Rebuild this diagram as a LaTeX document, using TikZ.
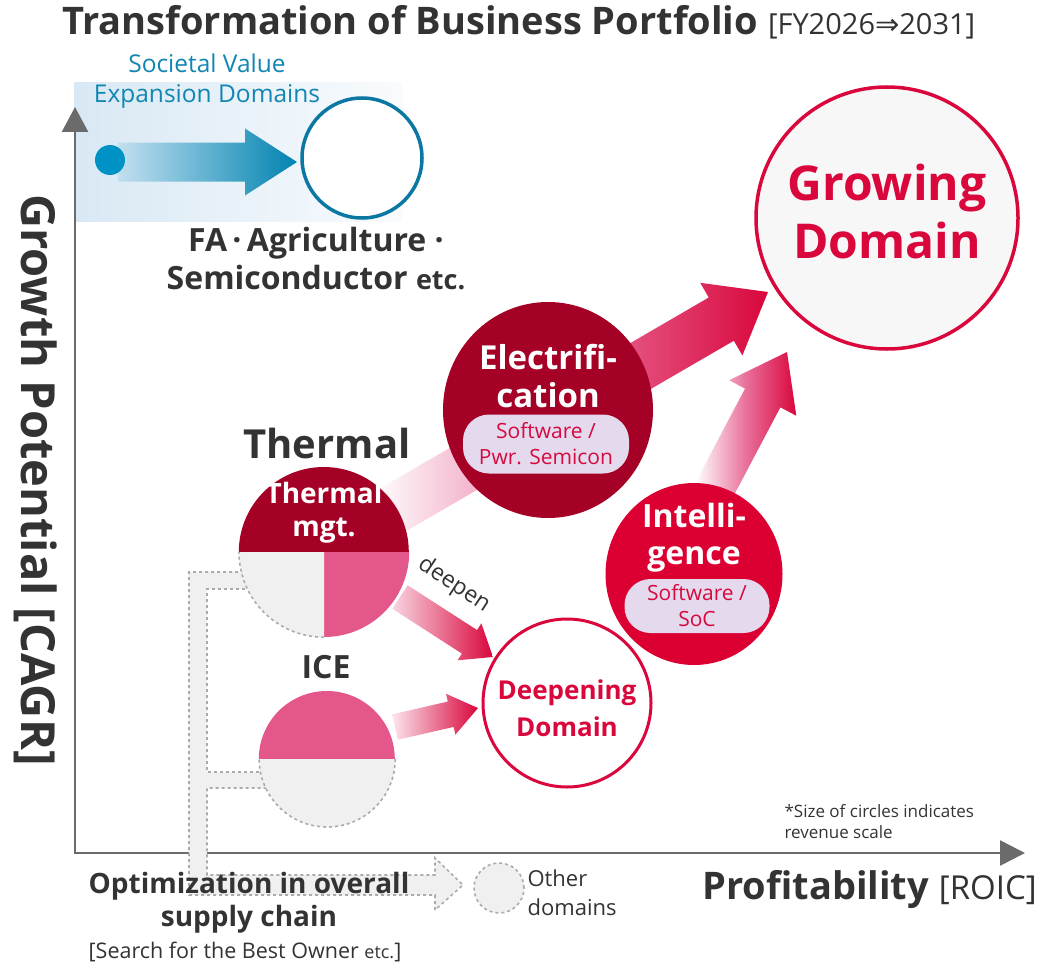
\documentclass[tikz,border=0pt]{standalone}
\usepackage{fontspec}
\setmainfont{Open Sans}
\newfontfamily\symfont{DejaVu Sans}
\usepackage{tikz}
\usetikzlibrary{arrows.meta, calc, shapes.geometric}
\definecolor{txtgray}{HTML}{333333}
\definecolor{axisgray}{HTML}{6B6B6B}
\definecolor{darkcrimson}{HTML}{A50026}
\definecolor{brightcrimson}{HTML}{DC0032}
\definecolor{rosepink}{HTML}{E4578A}
\definecolor{edgered}{HTML}{D9073C}
\definecolor{pillfill}{HTML}{E5D9EE}
\definecolor{pilltext}{HTML}{D50A3F}
\definecolor{seablue}{HTML}{1186B3}
\definecolor{dotblue}{HTML}{0092C4}
\definecolor{ringblue}{HTML}{0B77A3}
\definecolor{paleblue}{HTML}{D8E8F4}
\definecolor{pipegray}{HTML}{F0F0F0}
\definecolor{dashgray}{HTML}{ABABAB}

\newcommand{\fsz}[2]{\fontsize{#1}{#2}\selectfont}
% fat gradient arrow: start, end, body half width, head half width, head length, shading
\newcommand{\fatarrow}[6]{%
  \path let \p1=($(#2)-(#1)$) in \pgfextra{%
    \pgfmathsetmacro{\arrang}{atan2(\y1,\x1)}\global\let\arrang\arrang
    \pgfmathsetmacro{\arrlen}{veclen(\x1,\y1)}\global\let\arrlen\arrlen};
  \begin{scope}[shift={(#1)}, rotate=\arrang]
    \shade[#6] (0,-#3) -- (\arrlen-#5,-#3) -- (\arrlen-#5,-#4) -- (\arrlen,0)
      -- (\arrlen-#5,#4) -- (\arrlen-#5,#3) -- (0,#3) -- cycle;
  \end{scope}}

\begin{document}
\begin{tikzpicture}[x=1pt, y=-1pt,
    axisline/.style={axisgray, line width=2.5pt},
    dashpipe/.style={draw=dashgray, line width=1.6pt, dash pattern=on 3pt off 3pt},
    whitelbl/.style={text=white, font=\bfseries\fsz{33}{38}, align=center},
    redlbl/.style={text=edgered, font=\bfseries, align=center},
    graylbl/.style={text=txtgray, align=center},
    pill/.style={rectangle, rounded corners=26pt, fill=pillfill, text=pilltext, font=\fsz{21}{26}, align=center, inner sep=0pt},
    redfade/.style={left color=white, right color=edgered, middle color=rosepink!85}
  ]
  \useasboundingbox (0,0) rectangle (1038,963);

  % title
  \node[anchor=base west, text=txtgray, inner sep=0pt] (title) at (62,35)
    {\bfseries\fsz{38}{42}Transformation of Business Portfolio \mdseries\fsz{29}{32}[FY2026{\symfont ⇒}2031]};

  % societal value expansion
  \shade[left color=paleblue, right color=paleblue!15] (74,83) rectangle (403,221);
  \node[text=seablue, font=\fsz{24.5}{30}, align=center] (socval) at (207,81) {Societal Value\\Expansion Domains};
  \coordinate (b1s) at (118,162);
  \coordinate (b1e) at (297,162);
  \fatarrow{b1s}{b1e}{19.5}{33.5}{52}{left color=paleblue!90!dotblue, right color=dotblue!90!black}
  \node[circle, fill=dotblue, minimum size=30pt, inner sep=0pt] (sdot) at (110,160) {};
  \node[circle, draw=ringblue, line width=3.5pt, fill=white, minimum size=120pt, inner sep=0pt] (sring) at (362,158) {};
  \node[graylbl, font=\bfseries\fsz{32}{38}] (fa) at (316,259) {FA\,·\,Agriculture\ ·\\Semiconductor {\fsz{27}{38}etc.}};

  % axes
  \coordinate (origin) at (75,853);
  \coordinate (ytop) at (75,107);
  \coordinate (xend) at (1025,853);
  \draw[axisline, {Triangle[length=25pt, width=26pt]}-{Triangle[length=25pt, width=25pt]}] (ytop) -- (origin) -- (xend);
  \node[graylbl, rotate=-90, font=\bfseries\fsz{47}{52}] (ylab) at (36,480) {Growth Potential [CAGR]};
  \node[graylbl, anchor=east, font=\bfseries\fsz{38}{44}, inner sep=0pt] (xlab) at (1037,890) {Profitability {\mdseries\fsz{33}{40}[ROIC]}};
  \node[graylbl, anchor=west, align=left, font=\fsz{17}{21}] (note) at (781,822) {*Size of circles indicates\\revenue scale};

  % supply chain pipe
  \fill[pipegray] (270,572) -- (189,572) -- (189,895) -- (435,895) -- (435,910) -- (463,885) -- (435,858)
    -- (435,875) -- (207,875) -- (207,788) -- (290,788) -- (290,772) -- (207,772) -- (207,589) -- (270,589) -- cycle;
  \draw[dashpipe] (250,572) -- (189,572) -- (189,895) -- (435,895) -- (435,910) -- (463,885) -- (435,858)
    -- (435,875) -- (207,875) -- (207,788) -- (270,788);
  \draw[dashpipe] (265,772) -- (207,772) -- (207,589) -- (255,589);
  \node[circle, fill=pipegray, dashpipe, minimum size=50pt, inner sep=0pt] (other) at (499,888) {};
  \node[graylbl, anchor=west, align=left, font=\fsz{22}{29}] (otherlbl) at (524,893) {Other\\domains};

  % red arrows
  \coordinate (a1s) at (384,515);
  \coordinate (a1e) at (768,292);
  \coordinate (a2s) at (713,492);
  \coordinate (a2e) at (787,352);
  \coordinate (a3s) at (400,597);
  \coordinate (a3e) at (493,657);
  \coordinate (a4s) at (395,727);
  \coordinate (a4e) at (478,708);
  \fatarrow{a1s}{a1e}{25}{42}{54}{redfade}
  \fatarrow{a2s}{a2e}{20}{38}{52}{redfade}
  \fatarrow{a3s}{a3e}{14}{22}{28}{left color=rosepink!25, right color=edgered}
  \fatarrow{a4s}{a4e}{13}{21}{28}{left color=rosepink!15, right color=edgered}
  \node[graylbl, rotate=-33.5, font=\fsz{23}{26}, inner sep=0pt] (deepen) at (454,585) {deepen};

  % growing domain
  \node[circle, draw=edgered, line width=3.5pt, fill=black!3, minimum size=262pt, inner sep=0pt] (growing) at (887,218) {};
  \node[redlbl, font=\bfseries\fsz{48}{58}] (growlbl) at (887,211) {Growing\\Domain};

  % electrification
  \node[ellipse, fill=darkcrimson, minimum width=210pt, minimum height=216pt, inner sep=0pt] (elec) at (548,410) {};
  \node[whitelbl] (eleclbl) at (548,376) {Electrifi-\\cation};
  \node[pill, minimum width=166pt, minimum height=59pt] (elecpill) at (546,444) {Software /\\Pwr. Semicon};

  % intelligence
  \node[ellipse, fill=brightcrimson, minimum width=177pt, minimum height=182pt, inner sep=0pt] (intel) at (694,574) {};
  \node[whitelbl, font=\bfseries\fsz{32}{37}] (intellbl) at (694,538) {Intelli-\\gence};
  \node[pill, minimum width=145pt, minimum height=54pt] (intelpill) at (697,606) {Software /\\SoC};

  % deepening domain
  \node[circle, draw=edgered, line width=3pt, fill=white, minimum size=168pt, inner sep=0pt] (deep) at (567,703) {};
  \node[redlbl, font=\bfseries\fsz{26}{37}] (deeplbl) at (567,708) {Deepening\\Domain};

  % thermal
  \node[circle, minimum size=170pt, inner sep=0pt] (thermal) at (324,552) {};
  \fill[darkcrimson] (thermal.west) arc[start angle=180, end angle=360, radius=85] -- cycle;
  \fill[rosepink] (thermal.center) -- (thermal.east) arc[start angle=0, end angle=90, radius=85] -- cycle;
  \fill[pipegray] (thermal.center) -- (thermal.south) arc[start angle=90, end angle=180, radius=85] -- cycle;
  \draw[dashpipe] (thermal.south) arc[start angle=90, end angle=180, radius=85];
  \node[graylbl, font=\bfseries\fsz{40}{46}] (thermtitle) at (327,443) {Thermal};
  \node[whitelbl, font=\bfseries\fsz{28}{33}] (thermlbl) at (324,513) {Thermal\\mgt.};

  % ICE
  \node[circle, minimum size=136pt, inner sep=0pt] (ice) at (327,759) {};
  \fill[rosepink] (ice.west) arc[start angle=180, end angle=360, radius=68] -- cycle;
  \fill[pipegray] (ice.east) arc[start angle=0, end angle=180, radius=68] -- cycle;
  \draw[dashpipe] (ice.east) arc[start angle=0, end angle=180, radius=68];
  \node[graylbl, font=\bfseries\fsz{32}{38}] (icetitle) at (326,667) {ICE};

  % bottom texts
  \node[graylbl, font=\bfseries\fsz{28}{33}] (optim) at (249,903) {Optimization in overall\\supply chain};
  \node[graylbl, font=\fsz{21.5}{25}] (search) at (245,952) {[Search for the Best Owner {\fsz{18}{25}etc.}]};
\end{tikzpicture}
\end{document}
